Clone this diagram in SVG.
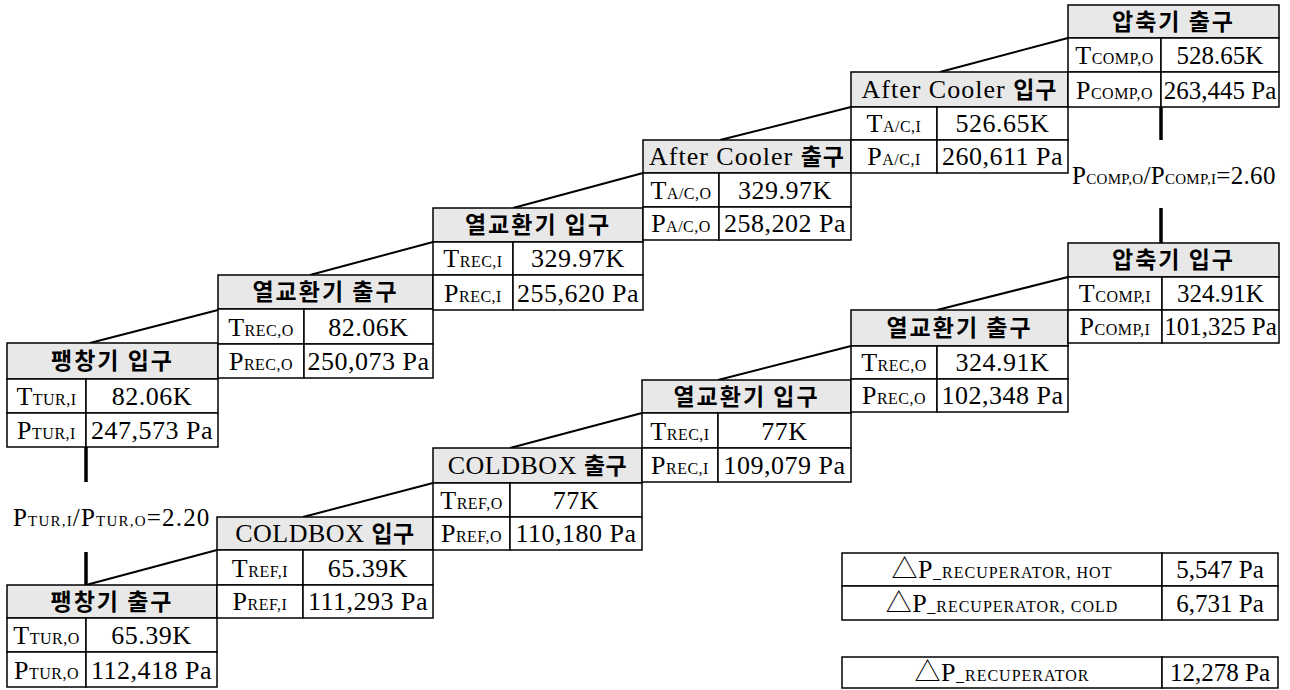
<svg xmlns="http://www.w3.org/2000/svg" width="1290" height="690" viewBox="0 0 1290 690">
<style>
.b{fill:#fff;stroke:#000;stroke-width:1.5}
.h{fill:#e8e8e8;stroke:#000;stroke-width:1.5}
.t{font-family:"Liberation Serif","Noto Sans CJK KR",serif;font-size:26px;letter-spacing:0.5px;text-anchor:middle;fill:#000}
.n{font-size:25px;letter-spacing:0}
.k{font-family:"Noto Sans CJK KR",sans-serif;font-weight:bold;font-size:23px;letter-spacing:2px;text-anchor:middle;fill:#000}
.kk{font-family:"Noto Sans CJK KR",sans-serif;font-weight:bold;font-size:23px}
.s{font-size:16px;letter-spacing:0.5px}
.r{font-family:"Liberation Serif",serif;font-size:25px;fill:#000}
.rs{font-size:15px}
.c line{stroke:#000;stroke-width:2}
.c line.v{stroke-width:3.5}
</style>
<g class="c" id="connectors">
<line x1="90" y1="343" x2="218" y2="310"/>
<line x1="310" y1="275" x2="433" y2="242"/>
<line x1="513" y1="208" x2="643" y2="173"/>
<line x1="720" y1="140" x2="851" y2="107"/>
<line x1="940" y1="72" x2="1068" y2="38"/>
<line x1="86" y1="585" x2="217" y2="550"/>
<line x1="303" y1="517" x2="433" y2="483"/>
<line x1="510" y1="448" x2="642" y2="413"/>
<line x1="718" y1="380" x2="851" y2="346"/>
<line x1="937" y1="310" x2="1068" y2="277"/>
<line class="v" x1="86" y1="447" x2="86" y2="482"/>
<line class="v" x1="86" y1="552" x2="86" y2="585"/>
<line class="v" x1="1161" y1="107" x2="1161" y2="140"/>
<line class="v" x1="1161" y1="208" x2="1161" y2="243"/>
</g>
<g id="ratio-tur"><text class="r" x="13" y="526" style="letter-spacing:1.2px">P<tspan class="rs">TUR,I</tspan>/P<tspan class="rs">TUR,O</tspan>=2.20</text></g>
<g id="ratio-comp"><text class="r" x="1072" y="184" style="letter-spacing:0.3px">P<tspan class="rs">COMP,O</tspan>/P<tspan class="rs">COMP,I</tspan>=2.60</text></g>

<g id="n1">
<rect class="h" x="7" y="343" width="211" height="36"/>
<rect class="b" x="7" y="379" width="79" height="34"/><rect class="b" x="86" y="379" width="132" height="34"/>
<rect class="b" x="7" y="413" width="79" height="34"/><rect class="b" x="86" y="413" width="132" height="34"/>
<text class="k" x="112.5" y="369">팽창기 입구</text>
<text class="t" x="46.5" y="405">T<tspan class="s">TUR,I</tspan></text><text class="t" x="152" y="405">82.06K</text>
<text class="t" x="46.5" y="439">P<tspan class="s">TUR,I</tspan></text><text class="t" x="152" y="439">247,573 Pa</text>
</g>
<g id="n2">
<rect class="h" x="218" y="275" width="215" height="34"/>
<rect class="b" x="218" y="309" width="86" height="35"/><rect class="b" x="304" y="309" width="129" height="35"/>
<rect class="b" x="218" y="344" width="86" height="34"/><rect class="b" x="304" y="344" width="129" height="34"/>
<text class="k" x="325.5" y="300">열교환기 출구</text>
<text class="t" x="261" y="336">T<tspan class="s">REC,O</tspan></text><text class="t" x="368.5" y="336">82.06K</text>
<text class="t" x="261" y="370">P<tspan class="s">REC,O</tspan></text><text class="t" x="368.5" y="370">250,073 Pa</text>
</g>
<g id="n3">
<rect class="h" x="433" y="208" width="210" height="34"/>
<rect class="b" x="433" y="242" width="80" height="33"/><rect class="b" x="513" y="242" width="130" height="33"/>
<rect class="b" x="433" y="275" width="80" height="35"/><rect class="b" x="513" y="275" width="130" height="35"/>
<text class="k" x="538" y="233">열교환기 입구</text>
<text class="t" x="473" y="267">T<tspan class="s">REC,I</tspan></text><text class="t" x="578" y="267">329.97K</text>
<text class="t" x="473" y="302">P<tspan class="s">REC,I</tspan></text><text class="t" x="578" y="302">255,620 Pa</text>
</g>
<g id="n4">
<rect class="h" x="643" y="140" width="208" height="33"/>
<rect class="b" x="643" y="173" width="76" height="34"/><rect class="b" x="719" y="173" width="132" height="34"/>
<rect class="b" x="643" y="207" width="76" height="33"/><rect class="b" x="719" y="207" width="132" height="33"/>
<text class="t" x="747" y="165" style="letter-spacing:1px">After Cooler <tspan class="kk">출구</tspan></text>
<text class="t" x="681" y="199">T<tspan class="s">A/C,O</tspan></text><text class="t" x="785" y="199">329.97K</text>
<text class="t" x="681" y="232">P<tspan class="s">A/C,O</tspan></text><text class="t" x="785" y="232">258,202 Pa</text>
</g>
<g id="n5">
<rect class="h" x="851" y="72" width="217" height="35"/>
<rect class="b" x="851" y="107" width="86" height="33"/><rect class="b" x="937" y="107" width="131" height="33"/>
<rect class="b" x="851" y="140" width="86" height="33"/><rect class="b" x="937" y="140" width="131" height="33"/>
<text class="t" x="959.5" y="98" style="letter-spacing:1px">After Cooler <tspan class="kk">입구</tspan></text>
<text class="t" x="894" y="132">T<tspan class="s">A/C,I</tspan></text><text class="t" x="1002.5" y="132">526.65K</text>
<text class="t" x="894" y="165">P<tspan class="s">A/C,I</tspan></text><text class="t" x="1002.5" y="165">260,611 Pa</text>
</g>
<g id="n6">
<rect class="h" x="1068" y="5" width="211" height="33"/>
<rect class="b" x="1068" y="38" width="93" height="34"/><rect class="b" x="1161" y="38" width="118" height="34"/>
<rect class="b" x="1068" y="72" width="93" height="35"/><rect class="b" x="1161" y="72" width="118" height="35"/>
<text class="k" x="1173.5" y="30">압축기 출구</text>
<text class="t" x="1114.5" y="64">T<tspan class="s">COMP,O</tspan></text><text class="t n" x="1220" y="64">528.65K</text>
<text class="t" x="1114.5" y="99">P<tspan class="s">COMP,O</tspan></text><text class="t n" x="1220" y="99">263,445 Pa</text>
</g>
<g id="n7">
<rect class="h" x="7" y="585" width="210" height="33"/>
<rect class="b" x="7" y="618" width="79" height="34"/><rect class="b" x="86" y="618" width="131" height="34"/>
<rect class="b" x="7" y="652" width="79" height="35"/><rect class="b" x="86" y="652" width="131" height="35"/>
<text class="k" x="112" y="610">팽창기 출구</text>
<text class="t" x="46.5" y="644">T<tspan class="s">TUR,O</tspan></text><text class="t" x="151.5" y="644">65.39K</text>
<text class="t" x="46.5" y="679">P<tspan class="s">TUR,O</tspan></text><text class="t" x="151.5" y="679">112,418 Pa</text>
</g>
<g id="n8">
<rect class="h" x="217" y="517" width="216" height="33"/>
<rect class="b" x="217" y="550" width="86" height="35"/><rect class="b" x="303" y="550" width="130" height="35"/>
<rect class="b" x="217" y="585" width="86" height="33"/><rect class="b" x="303" y="585" width="130" height="33"/>
<text class="t" x="325" y="542">COLDBOX <tspan class="kk">입구</tspan></text>
<text class="t" x="260" y="577">T<tspan class="s">REF,I</tspan></text><text class="t" x="368" y="577">65.39K</text>
<text class="t" x="260" y="610">P<tspan class="s">REF,I</tspan></text><text class="t" x="368" y="610">111,293 Pa</text>
</g>
<g id="n9">
<rect class="h" x="433" y="448" width="209" height="35"/>
<rect class="b" x="433" y="483" width="77" height="34"/><rect class="b" x="510" y="483" width="132" height="34"/>
<rect class="b" x="433" y="517" width="77" height="33"/><rect class="b" x="510" y="517" width="132" height="33"/>
<text class="t" x="537.5" y="474">COLDBOX <tspan class="kk">출구</tspan></text>
<text class="t" x="471.5" y="509">T<tspan class="s">REF,O</tspan></text><text class="t" x="576" y="509">77K</text>
<text class="t" x="471.5" y="542">P<tspan class="s">REF,O</tspan></text><text class="t" x="576" y="542">110,180 Pa</text>
</g>
<g id="n10">
<rect class="h" x="642" y="380" width="209" height="33"/>
<rect class="b" x="642" y="413" width="76" height="35"/><rect class="b" x="718" y="413" width="133" height="35"/>
<rect class="b" x="642" y="448" width="76" height="34"/><rect class="b" x="718" y="448" width="133" height="34"/>
<text class="k" x="746.5" y="405">열교환기 입구</text>
<text class="t" x="680" y="440">T<tspan class="s">REC,I</tspan></text><text class="t" x="784.5" y="440">77K</text>
<text class="t" x="680" y="474">P<tspan class="s">REC,I</tspan></text><text class="t" x="784.5" y="474">109,079 Pa</text>
</g>
<g id="n11">
<rect class="h" x="851" y="310" width="217" height="36"/>
<rect class="b" x="851" y="346" width="86" height="33"/><rect class="b" x="937" y="346" width="131" height="33"/>
<rect class="b" x="851" y="379" width="86" height="33"/><rect class="b" x="937" y="379" width="131" height="33"/>
<text class="k" x="959.5" y="336">열교환기 출구</text>
<text class="t" x="894" y="371">T<tspan class="s">REC,O</tspan></text><text class="t" x="1002.5" y="371">324.91K</text>
<text class="t" x="894" y="404">P<tspan class="s">REC,O</tspan></text><text class="t" x="1002.5" y="404">102,348 Pa</text>
</g>
<g id="n12">
<rect class="h" x="1068" y="243" width="211" height="34"/>
<rect class="b" x="1068" y="277" width="94" height="33"/><rect class="b" x="1162" y="277" width="117" height="33"/>
<rect class="b" x="1068" y="310" width="94" height="33"/><rect class="b" x="1162" y="310" width="117" height="33"/>
<text class="k" x="1173.5" y="268">압축기 입구</text>
<text class="t" x="1115" y="302">T<tspan class="s">COMP,I</tspan></text><text class="t n" x="1220.5" y="302">324.91K</text>
<text class="t" x="1115" y="335">P<tspan class="s">COMP,I</tspan></text><text class="t n" x="1220.5" y="335">101,325 Pa</text>
</g>
<g id="dp-table">
<rect class="b" x="842" y="553" width="320" height="33"/><rect class="b" x="1162" y="553" width="116" height="33"/>
<rect class="b" x="842" y="586" width="320" height="34"/><rect class="b" x="1162" y="586" width="116" height="34"/>
<text class="t" x="1002" y="578">△P<tspan class="s" style="letter-spacing:1px">_RECUPERATOR,  HOT</tspan></text><text class="t n" x="1220" y="578">5,547 Pa</text>
<text class="t" x="1002" y="612">△P<tspan class="s" style="letter-spacing:1px">_RECUPERATOR,  COLD</tspan></text><text class="t n" x="1220" y="612">6,731 Pa</text>
</g>
<g id="dp-total">
<rect class="b" x="842" y="657" width="320" height="31"/><rect class="b" x="1162" y="657" width="116" height="31"/>
<text class="t" x="1002" y="681">△P<tspan class="s" style="letter-spacing:1px">_RECUPERATOR</tspan></text><text class="t n" x="1220" y="681">12,278 Pa</text>
</g>
</svg>
